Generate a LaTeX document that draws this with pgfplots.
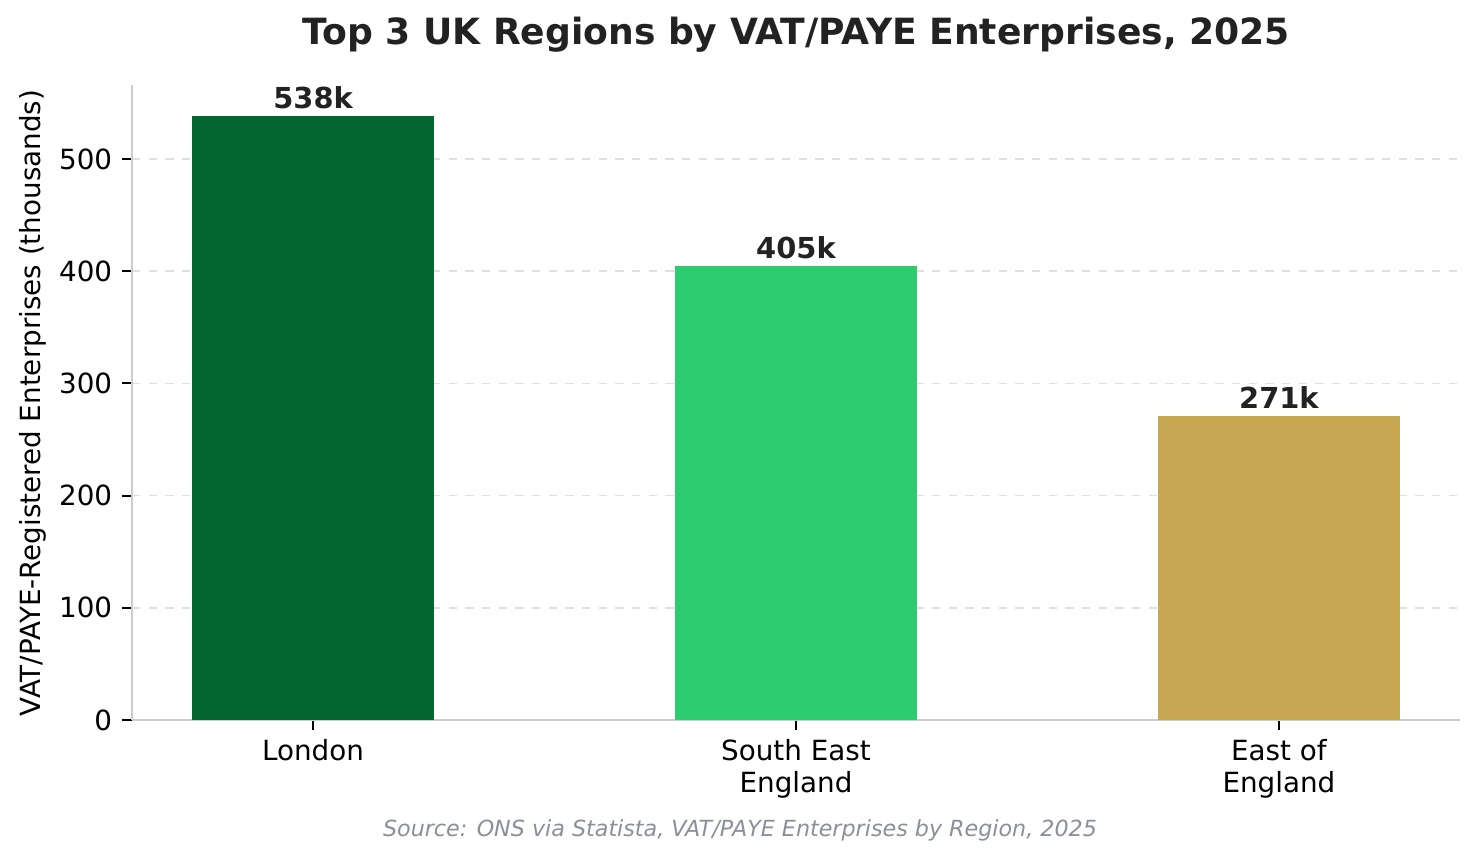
\documentclass[border=0pt]{standalone}
\usepackage{pgfplots}
\pgfplotsset{compat=1.18}
\usepackage{fontspec}
\setmainfont{DejaVu Sans}
\definecolor{london}{HTML}{03662F}
\definecolor{southeast}{HTML}{2ECC71}
\definecolor{eastengl}{HTML}{C8A752}
\definecolor{titlegray}{HTML}{222222}
\definecolor{srcgray}{HTML}{8A8F99}
\definecolor{spine}{HTML}{CCCCCC}
\begin{document}
\begin{tikzpicture}
    % canvas, 1480x862 px at 0.36 pt/px
    \useasboundingbox (0pt,0pt) rectangle (532.8pt,310.3pt);
    \begin{axis}[
        at={(47.5pt,51.1pt)},
        anchor=south west,
        scale only axis,
        width=478.1pt,
        height=228.6pt,
        xmin=-0.375, xmax=2.375,
        ymin=0, ymax=566,
        xtick={0,1,2},
        xticklabels={London,South East\\England,East of\\England},
        xticklabel style={align=center,font=\fontsize{10}{11.5}\selectfont},
        ytick={0,100,200,300,400,500},
        yticklabel style={font=\fontsize{10}{12}\selectfont},
        /pgf/number format/assume math mode=true,
        axis x line*=bottom,
        axis y line*=left,
        axis line style={spine,line width=0.75pt},
        tick style={black,line width=0.7pt},
        major tick length=3.6pt,
        tick align=outside,
        ymajorgrids,
        grid style={dashed,color=gray!25,line width=0.6pt},
        nodes near coords style={font=\bfseries\fontsize{10.4}{12}\selectfont,color=titlegray,anchor=south,yshift=-1pt},
        clip=false,
    ]
        \addplot[ybar,bar width=0.5,fill=london,draw=none,nodes near coords={538k}] coordinates {(0,538)};
        \addplot[ybar,bar width=0.5,fill=southeast,draw=none,nodes near coords={405k}] coordinates {(1,405)};
        \addplot[ybar,bar width=0.5,fill=eastengl,draw=none,nodes near coords={271k}] coordinates {(2,271)};
    \end{axis}
    \node[rotate=90,font=\fontsize{10}{12}\selectfont] at (11.9pt,165.2pt) {VAT/PAYE-Registered Enterprises (thousands)};
    \node[font=\bfseries\fontsize{13}{16}\selectfont,color=titlegray] at (286.6pt,297.8pt) {Top 3 UK Regions by VAT/PAYE Enterprises, 2025};
    \node[font=\itshape\fontsize{8}{9.5}\selectfont,color=srcgray] at (266.4pt,11.2pt) {Source: ONS via Statista, VAT/PAYE Enterprises by Region, 2025};
\end{tikzpicture}
\end{document}
